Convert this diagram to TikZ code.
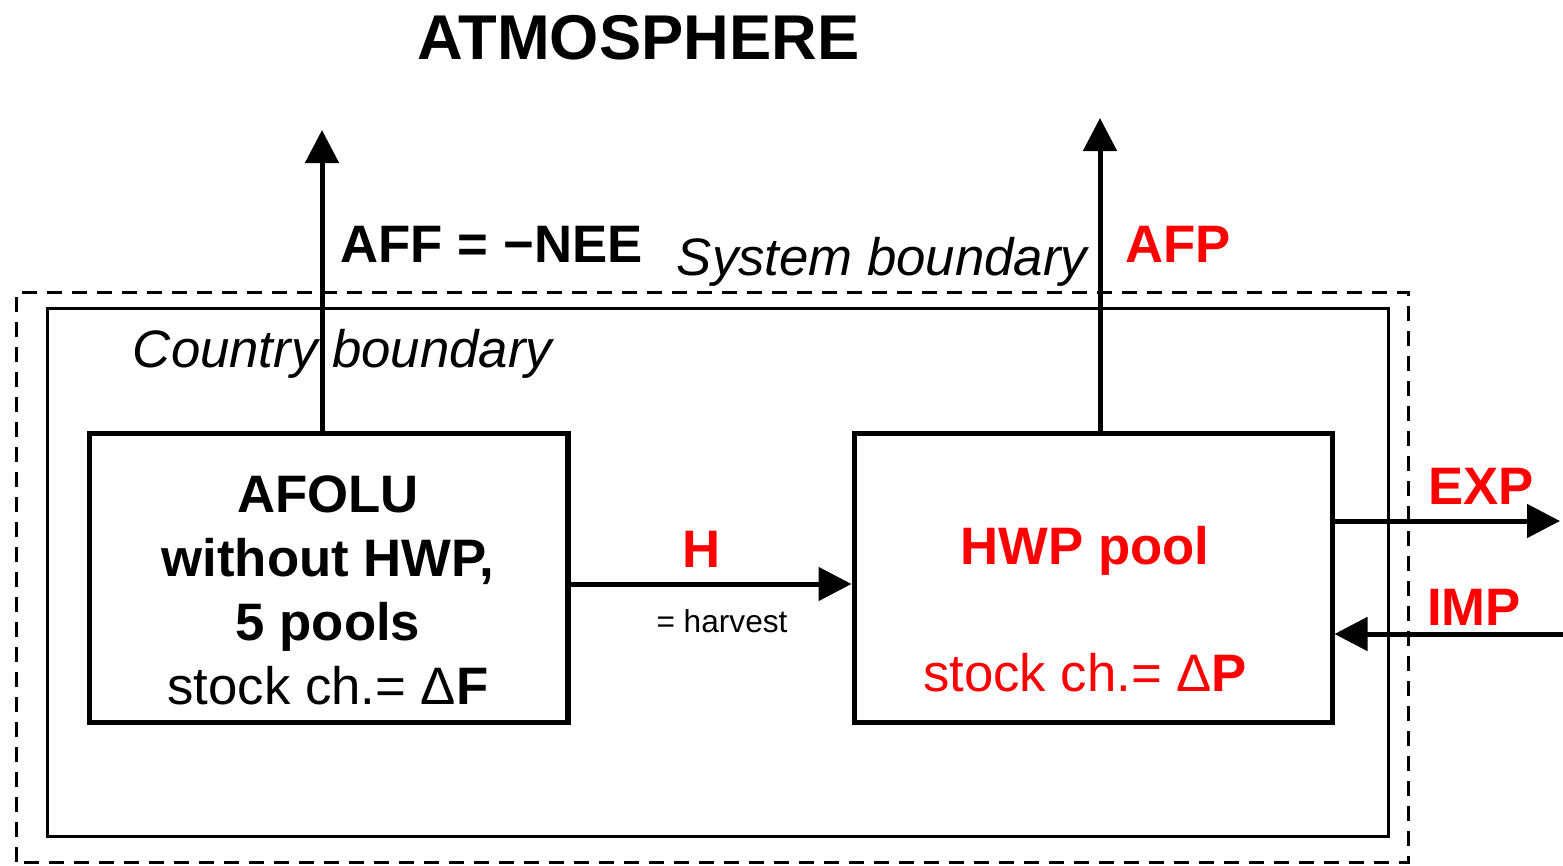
\documentclass[tikz,border=0pt]{standalone}
\usepackage{fontspec}
\setmainfont{Liberation Sans}
\usetikzlibrary{arrows.meta,positioning,calc}
\definecolor{flowred}{HTML}{FF0000}

\begin{document}
\begin{tikzpicture}[font=\fontsize{15}{18.2}\selectfont,
  box/.style={draw,line width=0.05cm,minimum width=4.78cm,minimum height=2.89cm,inner sep=0pt},
  flow/.style={-{Triangle[length=0.33cm,width=0.33cm]},line width=0.05cm},
  bnd/.style={font=\fontsize{15}{18}\selectfont\itshape,anchor=base},
  lab/.style={font=\fontsize{15}{18}\selectfont\bfseries,anchor=base}]
\useasboundingbox (0,0) rectangle (15.63,8.65);
% boundaries
\draw[line width=0.03cm,dash pattern=on 0.15cm off 0.1cm] (0.17,0.03) rectangle (14.08,5.73);
\draw[line width=0.03cm] (0.47,0.29) rectangle (13.88,5.57);
\node[bnd] (sysb) at (8.82,5.90) {System boundary};
\node[bnd] (ctyb) at (3.425,4.97) {Country boundary};
% pools
\node[box] (afolu) at (3.29,2.875) {};
\node[box] (hwp) at (10.93,2.875) {};
\node[align=center] (afolutxt) at (3.28,2.745) {\textbf{AFOLU}\\\textbf{without HWP,}\\\textbf{5 pools}\\stock ch.= Δ\textbf{F}};
\node[align=center,text=flowred] (hwptxt) at (10.85,2.56) {\textbf{HWP pool}\\[18pt]stock ch.= Δ\textbf{P}};
% flows
\coordinate (atmL) at (3.22,7.35);
\coordinate (atmR) at (11.00,7.47);
\coordinate (hlev) at (0,2.81);
\coordinate (expend) at (15.60,3.44);
\coordinate (impstart) at (15.63,2.31);
\draw[flow] (afolu.north -| atmL) -- (atmL);
\draw[flow] (hwp.north -| atmR) -- (atmR);
\draw[flow] (afolu.east |- hlev) -- (hwp.west |- hlev);
\draw[flow] (hwp.east |- expend) -- (expend);
\draw[flow] (impstart) -- (hwp.east |- impstart);
% labels
\node[lab,font=\fontsize{18}{22}\selectfont\bfseries] (atmo) at (6.385,8.05) {ATMOSPHERE};
\node[lab,anchor=base west,inner sep=0pt] (aff) at (3.40,6.03) {AFF = −NEE};
\node[lab,text=flowred] (afp) at (11.78,6.03) {AFP};
\node[lab,text=flowred] (hlab) at (7.02,2.98) {H};
\node[anchor=base,font=\fontsize{9}{11}\selectfont] (harv) at (7.22,2.33) {= harvest};
\node[lab,text=flowred] (explab) at (14.81,3.61) {EXP};
\node[lab,text=flowred] (implab) at (14.74,2.40) {IMP};
\end{tikzpicture}
\end{document}
